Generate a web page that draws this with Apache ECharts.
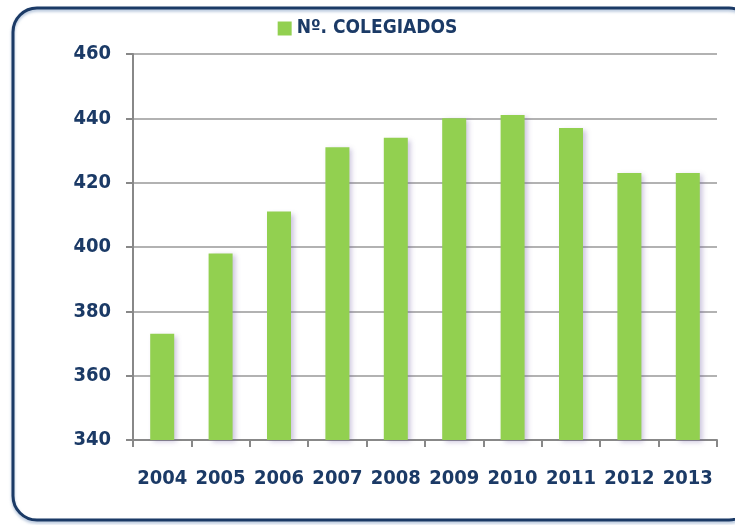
<!DOCTYPE html>
<html>
<head>
<meta charset="utf-8">
<script src="https://cdn.jsdelivr.net/npm/echarts@6/dist/echarts.min.js"></script>
<style>
  html, body { margin: 0; padding: 0; background: #fff; }
  #chart { width: 735px; height: 525px; }
</style>
</head>
<body>
<div id="chart"></div>
<script>
  // datos
  var years = ['2004', '2005', '2006', '2007', '2008', '2009', '2010', '2011', '2012', '2013'];
  var colegiados = [373, 398, 411, 431, 434, 440, 441, 437, 423, 423];
  var seriesName = 'Nº. COLEGIADOS';

  var navy = '#1b3a66';
  var font = "'DejaVu Sans Condensed', 'DejaVu Sans', sans-serif";

  var myChart = echarts.init(document.getElementById('chart'));
  myChart.setOption({
    animation: false,
    textStyle: { fontFamily: font },
    graphic: [{
      type: 'rect',
      shape: { x: 13, y: 8, width: 740, height: 512, r: 24 },
      style: { fill: 'none', stroke: navy, lineWidth: 3, shadowColor: 'rgba(120,150,190,0.6)', shadowBlur: 3, shadowOffsetY: 2 },
      z: 0
    }],
    legend: {
      top: 14,
      left: 'center',
      icon: 'rect',
      itemWidth: 14,
      itemHeight: 14,
      itemGap: 6,
      textStyle: { color: navy, fontSize: 19, fontWeight: 'bold', fontFamily: font },
      data: [seriesName]
    },
    grid: { left: 133, right: 18, top: 54, bottom: 85 },
    xAxis: {
      type: 'category',
      data: years,
      axisLine: { lineStyle: { color: '#888', width: 2 } },
      axisTick: { show: true, length: 7, lineStyle: { color: '#888', width: 2 } },
      axisLabel: { interval: 0, color: navy, fontSize: 20, fontWeight: 'bold', margin: 29, fontFamily: font }
    },
    yAxis: {
      type: 'value',
      min: 340,
      max: 460,
      interval: 20,
      axisLine: { show: true, lineStyle: { color: '#888', width: 2 } },
      axisTick: { show: true, length: 7, lineStyle: { color: '#888', width: 2 } },
      splitLine: { lineStyle: { color: '#999', width: 1.5 } },
      axisLabel: { color: navy, fontSize: 20, fontWeight: 'bold', margin: 22, fontFamily: font }
    },
    series: [{
      name: seriesName,
      type: 'bar',
      barWidth: 24,
      data: colegiados,
      itemStyle: {
        color: '#92d050',
        shadowColor: 'rgba(110,90,160,0.35)',
        shadowBlur: 5,
        shadowOffsetX: 3,
        shadowOffsetY: 2
      }
    }]
  });
</script>
</body>
</html>
